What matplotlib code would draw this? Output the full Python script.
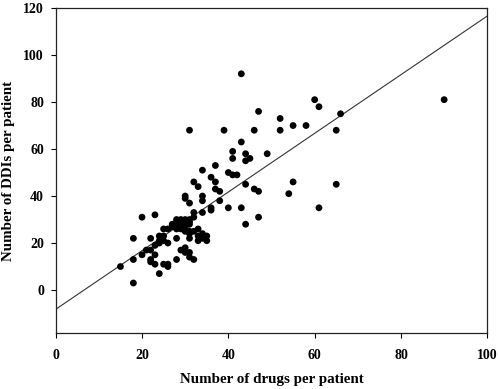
import matplotlib
matplotlib.use("Agg")
import matplotlib.pyplot as plt
import numpy as np

# Data (number of drugs, number of DDIs per patient)
drugs = [15, 18, 18, 18, 20, 20, 21, 22, 22, 22, 23, 23, 23, 22, 24, 25, 26, 26,
         24, 25, 24, 25, 26, 25, 23, 24,
         27, 28, 28, 29, 30, 31, 27, 28, 29, 30, 31, 29, 30, 31, 32, 33, 28, 26, 30, 31,
         28, 31, 31, 33, 34, 33, 34, 35, 35,
         30, 30, 31, 32, 28, 29, 31,
         30, 30, 31, 34, 34, 38, 38, 37,
         32, 32, 34, 36, 36, 40, 43, 44,
         31, 39, 43, 43, 41, 41, 44, 44, 45, 49,
         32, 33, 34, 36, 37, 37, 40, 41, 42, 44,
         46, 47, 47, 54, 55, 61, 65,
         46, 47, 52, 52, 55, 58, 60, 61, 65, 66, 90]
ddis = [10, 22, 13, 3, 31, 15, 17, 17, 22, 13, 32, 15, 11, 12, 7, 11, 10, 11,
        23, 23, 20, 21, 20, 26, 19, 21,
        28, 29, 30, 30, 30, 30, 27, 27, 28, 27, 28, 26, 25, 25, 25, 26, 26, 26, 29, 29,
        22, 24, 22, 23, 24, 21, 22, 23, 21,
        18, 16, 16, 13, 13, 17, 14,
        40, 39, 37, 40, 38, 38, 42, 43,
        33, 31, 33, 35, 34, 35, 35, 28,
        68, 68, 92, 63, 59, 56, 58, 55, 56, 58,
        46, 44, 51, 48, 46, 53, 50, 49, 49, 45,
        43, 42, 31, 41, 46, 35, 45,
        68, 76, 73, 68, 70, 70, 81, 78, 68, 75, 81]

# Regression line
line_intercept = -8.2
line_slope = 1.248
line_x = [0, 100]

x_ticks = [0, 20, 40, 60, 80, 100]
y_ticks = [0, 20, 40, 60, 80, 100, 120]

W, H = 498, 389
fig = plt.figure(figsize=(W / 100, H / 100), dpi=100)
left, right, top, bottom = 55.7, 487.3, 8.0, 333.3
ax = fig.add_axes([left / W, 1 - bottom / H, (right - left) / W, (bottom - top) / H])

ax.scatter(drugs, ddis, s=24, color="black", edgecolors="none", zorder=3)
lx = np.array(line_x, dtype=float)
ax.plot(lx, line_intercept + line_slope * lx, color="#333333", linewidth=0.8, zorder=2)

ax.set_xlim(0, 100)
ax.set_ylim(-18.4, 120)
ax.set_xticks(x_ticks)
ax.set_yticks(y_ticks)

font = "Liberation Serif"
for lab in ax.get_xticklabels() + ax.get_yticklabels():
    lab.set_fontfamily(font)
    lab.set_fontweight("bold")
    lab.set_fontsize(10)

ax.tick_params(axis="x", direction="out", length=3.5, width=0.8, pad=8)
ax.tick_params(axis="y", direction="out", length=3.5, width=0.8, pad=5)
for s in ax.spines.values():
    s.set_linewidth(0.9)
    s.set_color("#222222")

ax.set_xlabel("Number of drugs per patient", fontfamily=font, fontweight="bold", fontsize=10.8)
ax.set_ylabel("Number of DDIs per patient", fontfamily=font, fontweight="bold", fontsize=10.8)
ax.xaxis.label.set_va("center")
ax.yaxis.label.set_va("center")
ax.xaxis.set_label_coords(0.5, (bottom - 379) / (bottom - top))
ax.yaxis.set_label_coords((9 - left) / (right - left), 0.5)

fig.savefig("out.png", dpi=100)
